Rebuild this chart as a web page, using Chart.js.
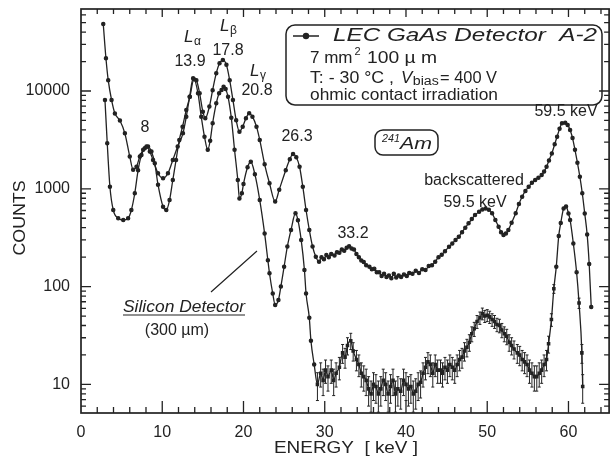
<!DOCTYPE html>
<html><head><meta charset="utf-8">
<script src="https://cdn.jsdelivr.net/npm/chart.js@4.4.1/dist/chart.umd.min.js"></script>
<style>html,body{margin:0;padding:0;background:#fff;}#wrap{width:612px;height:461px;}</style>
</head><body><div id="wrap"><canvas id="c" width="612" height="461"></canvas></div>
<script>
// ---- data ----
const gaE = [2.74,3.07,3.35,3.76,4.17,4.79,5.4,6.0,6.42,6.83,7.24,7.65,8.06,8.47,8.87,9.48,10.1,10.7,11.3,11.9,12.55,12.96,13.37,13.8,14.2,14.6,15.0,15.3,15.8,16.2,16.65,17.05,17.46,17.9,18.3,18.7,19.1,19.5,19.9,20.3,20.7,21.1,21.6,22.0,22.6,23.2,23.9,24.4,25.2,25.7,26.1,26.5,26.9,27.3,27.7,28.1,28.5,28.9,
  29.3,29.6,29.9,30.2,30.5,30.8,31.2,31.5,31.8,32.1,32.4,32.7,33.0,33.3,33.6,33.9,34.2,34.5,34.8,35.1,35.5,35.8,36.1,36.4,36.7,37.0,37.3,37.6,37.9,38.2,38.5,38.8,39.1,39.4,39.75,40.1,40.4,40.8,41.2,41.6,42.0,42.4,42.8,
  43.2,43.6,44.0,44.4,44.8,45.3,45.7,46.1,46.5,46.9,47.3,47.7,48.1,48.5,49.0,49.4,49.8,50.2,50.6,51.0,51.4,51.7,52.0,52.3,52.6,53.0,53.5,53.9,54.3,54.7,55.1,55.5,55.9,56.3,56.7,57.0,57.3,57.6,57.95,58.3,58.6,58.9,59.2,59.6,59.9,60.2,60.5,60.8,61.1,61.4,61.7,62.0,62.3,62.55,62.8];
const gaC = [48400,21600,12900,8100,5900,5000,3690,2140,1570,1680,2140,2500,2700,2400,1970,1440,1280,1440,1970,2700,3690,5460,8720,13500,12900,9470,6140,5250,6920,10200,15200,19200,20700,18500,12900,8100,5020,3840,4320,5250,5910,5460,4320,3160,1780,1140,740,980,1550,2000,2270,2100,1680,1050,607,380,257,202,
  180,200,190,210,200,215,208,225,222,240,232,250,258,245,240,215,200,185,178,165,160,150,152,140,140,128,135,125,130,122,135,124,130,125,133,128,138,135,145,138,150,148,162,
  165,180,200,212,230,256,275,300,324,360,400,444,490,540,583,615,630,610,562,480,409,360,337,350,379,450,562,700,830,950,1050,1150,1230,1300,1380,1500,1680,1950,2300,2850,3410,4100,4680,4740,4500,3990,3300,2500,1850,1330,900,560,340,170,62];

const siE = [2.95,3.23,3.56,3.97,4.58,5.2,5.8,6.2,6.62,7.03,7.44,7.85,8.25,8.67,9.08,9.48,10.1,10.5,10.9,11.3,11.7,12.1,12.5,12.96,13.4,13.9,14.4,14.8,15.2,15.6,15.9,16.2,16.65,17.0,17.3,17.55,17.8,18.1,18.5,18.9,19.3,19.5,19.8,20.0,20.5,20.9,21.4,22.0,22.6,23.0,23.2,23.6,23.9,24.3,24.6,25.0,25.4,25.85,26.4,26.7,27.1,27.5,27.7,28.1,28.3,28.7,
  29.1,29.5,29.8,30.1,30.4,30.8,31.1,31.4,31.8,32.2,32.5,32.8,33.2,33.5,33.9,34.2,34.5,34.8,35.1,35.4,35.7,36.0,36.3,36.6,36.9,37.2,37.5,37.8,38.1,38.4,38.7,39.0,39.35,39.7,40.0,40.3,40.6,40.9,41.2,41.5,41.8,42.1,42.4,42.7,43.0,43.3,43.6,43.9,44.25,44.5,44.8,45.1,45.4,45.7,46.0,46.3,46.6,46.9,47.2,47.5,47.8,48.1,48.4,48.75,49.1,49.4,49.7,50.0,50.3,50.6,50.9,51.2,51.5,51.8,52.1,52.4,52.7,53.0,53.3,53.7,54.0,54.3,54.6,54.9,55.2,55.5,55.8,56.1,56.4,56.7,57.0,57.3,57.55,57.9,58.2,58.5,58.8,59.05,59.4,59.7,60.0,60.2,60.6,61.0,61.3,61.65,61.75];
const siC = [8100,2920,1050,607,500,480,500,607,900,1550,2220,2600,2700,2400,1820,1100,656,607,767,1230,1970,3160,4320,6400,8720,13200,9470,5460,3400,2500,3100,4680,7480,9500,10240,11070,10500,8720,5330,2500,1230,795,900,1120,1660,1890,1410,767,350,186,137,85,65,73,100,160,257,380,562,478,300,148,85,48,28,16,
  10,13,11,14,12,14,11,13,15,21,19,25,28,22,18,16,13,12,11,9,8,10,9.5,8,9,11,10,8,9.5,11,8,9,8.5,11,10,9,9.5,8,8.5,10,10.5,13,15,17,16,13,16,14,14,13,15,14,16,15,14,16,18,19,22,24,27,33,37,44,48,53,50,51,49,46,44,41,40,36,33,31,27,25,23,21,20,18,17,16,14,13,12,12,13,14,16,18,26,46,95,160,330,447,630,660,560,480,275,140,68,21,9.5];

const xTickValues = [0,10,20,30,40,50,60];
const yTickValues = [10,100,1000,10000];
const xTitle = 'ENERGY  [ keV ]';
const yTitle = 'COUNTS';
const seriesNames = ['LEC GaAs Detector  A-2', 'Silicon Detector'];

const FONT = '"Liberation Sans", Arial, Helvetica, sans-serif';
const INK = '#222';

function drawText(ctx, s, x, y, o) {
  o = o || {};
  const size = o.size || 16;
  ctx.font = (o.italic ? 'italic ' : '') + size + 'px ' + FONT;
  ctx.textBaseline = 'middle';
  ctx.textAlign = 'left';
  const w = ctx.measureText(s).width;
  const tw = o.w || w;
  const sx = tw / w;
  let left = x;
  if (o.align === 'center') left = x - tw / 2;
  else if (o.align === 'right') left = x - tw;
  ctx.save();
  ctx.translate(left, y);
  ctx.scale(sx, 1);
  ctx.fillStyle = INK;
  ctx.fillText(s, 0, 0);
  ctx.restore();
  return left + tw;
}

const decoPlugin = {
  id: 'deco',
  afterDatasetsDraw(chart) {
    // Poisson error bars on the low-count silicon points
    const { ctx, scales: { x, y } } = chart;
    ctx.save();
    ctx.strokeStyle = INK; ctx.lineWidth = 1;
    ctx.beginPath();
    siE.forEach((e, i) => {
      const c = siC[i];
      if (e < 28.9 || c > 100) return;
      const err = Math.sqrt(c);
      const px = x.getPixelForValue(e);
      const y1 = y.getPixelForValue(c + err), y0 = y.getPixelForValue(Math.max(c - err, 5.2));
      ctx.moveTo(px, y0); ctx.lineTo(px, y1);
      ctx.moveTo(px - 1.5, y0); ctx.lineTo(px + 1.5, y0);
      ctx.moveTo(px - 1.5, y1); ctx.lineTo(px + 1.5, y1);
    });
    ctx.stroke();
    ctx.restore();
  },
  afterDraw(chart) {
    const { ctx, chartArea: a, scales: { x, y } } = chart;
    ctx.save();
    // frame
    ctx.strokeStyle = INK; ctx.lineWidth = 1.7;
    ctx.strokeRect(a.left, a.top, a.right - a.left, a.bottom - a.top);
    // tick marks (inside)
    ctx.lineWidth = 1.3;
    ctx.beginPath();
    for (let v = 2; v <= 64; v += 2) {
      const px = x.getPixelForValue(v);
      const major = v % 10 === 0;
      ctx.moveTo(px, a.bottom); ctx.lineTo(px, a.bottom - (major ? 12 : 6));
      ctx.moveTo(px, a.top); ctx.lineTo(px, a.top + (major ? 8 : 5));
    }
    for (let d = 0; d <= 4; d++) {
      for (let k = 1; k <= 9; k++) {
        const v = k * Math.pow(10, d);
        if (v < y.min || v > y.max) continue;
        const py = y.getPixelForValue(v);
        const L = k === 1 ? 10 : 5;
        ctx.moveTo(a.left, py); ctx.lineTo(a.left + L, py);
        ctx.moveTo(a.right, py); ctx.lineTo(a.right - L, py);
      }
    }
    ctx.stroke();

    // axis titles
    drawText(ctx, xTitle, 346, 449, { size: 16, align: 'center', w: 144 });
    ctx.save();
    ctx.translate(21, 218); ctx.rotate(-Math.PI / 2);
    drawText(ctx, yTitle, 0, 0, { size: 16, align: 'center', w: 75 });
    ctx.restore();

    // peak labels
    const labels = [
      ['8', 145, 128], ['13.9', 190, 62], ['17.8', 228, 51], ['20.8', 257, 91],
      ['26.3', 297, 137], ['33.2', 353, 234], ['59.5 keV', 566, 112],
      ['backscattered', 474, 181], ['59.5 keV', 475, 203]
    ];
    labels.forEach(l => drawText(ctx, l[0], l[1], l[2], { size: 16, align: 'center' }));
    // L lines
    [['\u03B1', 184, 37], ['\u03B2', 220, 26], ['\u03B3', 250, 71]].forEach(l => {
      const e = drawText(ctx, 'L', l[1], l[2], { size: 17, italic: true });
      drawText(ctx, l[0], e + 0.5, l[2] + 5, { size: 12 });
    });

    // silicon label
    const sEnd = drawText(ctx, seriesNames[1], 123, 307, { size: 17, italic: true, w: 122 });
    ctx.strokeStyle = INK; ctx.lineWidth = 1.2;
    ctx.beginPath(); ctx.moveTo(123, 315); ctx.lineTo(sEnd, 315);
    ctx.moveTo(211, 292); ctx.lineTo(257, 251); ctx.stroke();
    drawText(ctx, '(300 \u00B5m)', 177, 331, { size: 16, align: 'center' });

    // legend box
    ctx.lineWidth = 1.5;
    ctx.beginPath(); ctx.roundRect(286, 25, 316, 80, 9); ctx.stroke();
    ctx.beginPath(); ctx.moveTo(293, 36); ctx.lineTo(319, 36); ctx.stroke();
    ctx.beginPath(); ctx.arc(306, 36, 3.2, 0, Math.PI * 2); ctx.fillStyle = INK; ctx.fill();
    drawText(ctx, seriesNames[0], 333, 36, { size: 18, italic: true, w: 264 });
    let e2 = drawText(ctx, '7 mm', 310, 58, { size: 17 });
    drawText(ctx, '2', e2 + 2, 52, { size: 11 });
    drawText(ctx, '100 \u00B5 m', 367, 58, { size: 17, w: 70 });
    drawText(ctx, 'T: - 30 \u00B0C ,', 310, 78, { size: 17, w: 84 });
    let e3 = drawText(ctx, 'V', 401, 78, { size: 17, italic: true });
    drawText(ctx, 'bias', e3 + 0.5, 82, { size: 12, w: 26 });
    drawText(ctx, '= 400 V', 440, 78, { size: 17, w: 57 });
    drawText(ctx, 'ohmic contact irradiation', 310, 95, { size: 17, w: 188 });

    // source box
    ctx.beginPath(); ctx.roundRect(375, 130, 63, 25, 8); ctx.stroke();
    drawText(ctx, '241', 382, 139, { size: 11, italic: true, w: 18 });
    drawText(ctx, 'Am', 400, 144, { size: 17, italic: true, w: 32 });
    ctx.restore();
  }
};

new Chart(document.getElementById('c'), {
  type: 'line',
  data: {
    datasets: [
      { label: seriesNames[0], data: gaE.map((e, i) => ({ x: e, y: gaC[i] })),
        borderColor: INK, backgroundColor: INK, borderWidth: 1.3, pointRadius: 1.6,
        pointHoverRadius: 0, cubicInterpolationMode: 'monotone' },
      { label: seriesNames[1], data: siE.map((e, i) => ({ x: e, y: siC[i] })),
        borderColor: INK, backgroundColor: INK, borderWidth: 1.3,
        pointRadius: 1.6, pointHoverRadius: 0,
        pointStyle: c => (siE[c.dataIndex] > 28.9 && siC[c.dataIndex] < 100 ? 'rect' : 'circle'),
        cubicInterpolationMode: 'monotone' }
    ]
  },
  options: {
    responsive: false, animation: false, devicePixelRatio: 1,
    layout: { padding: { left: 0, right: 2, top: 9, bottom: 0 } },
    plugins: { legend: { display: false }, tooltip: { enabled: false } },
    scales: {
      x: { type: 'linear', min: 0, max: 65,
        grid: { display: false, drawTicks: false }, border: { display: false },
        afterFit(s) { s.height = 48; s.paddingLeft = 0; s.paddingRight = 0; },
        afterBuildTicks(s) { s.ticks = xTickValues.map(v => ({ value: v })); },
        ticks: { autoSkip: false, maxRotation: 0, padding: 10, color: INK,
          font: { family: FONT, size: 16 }, callback: v => String(v) } },
      y: { type: 'logarithmic', min: 5.1, max: 68900,
        grid: { display: false, drawTicks: false }, border: { display: false },
        afterFit(s) { s.width = 81; s.paddingTop = 0; s.paddingBottom = 0; },
        afterBuildTicks(s) { s.ticks = yTickValues.map(v => ({ value: v })); },
        ticks: { autoSkip: false, padding: 11, color: INK,
          font: { family: FONT, size: 16 }, callback: v => String(v) } }
    }
  },
  plugins: [decoPlugin]
});
</script>
</body></html>
